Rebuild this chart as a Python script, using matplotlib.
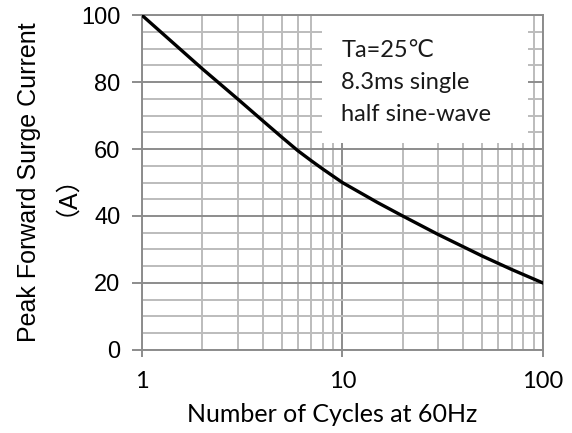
import matplotlib
matplotlib.use("Agg")
import matplotlib.pyplot as plt
from matplotlib.patches import Rectangle
from matplotlib.ticker import LogLocator, MultipleLocator, FixedLocator, NullFormatter
import numpy as np

# values
cycles = [1, 2, 3, 4, 5, 6, 7, 8, 10, 15, 20, 30, 50, 70, 100]
current = [100, 84, 75, 68.5, 63.5, 59.5, 56.5, 54, 50, 44, 40, 34.5, 28, 24, 20]

x_ticks = [1, 10, 100]
x_tick_labels = ["1", "10", "100"]
y_ticks = [0, 20, 40, 60, 80, 100]

note = "Ta=25\u2103\n8.3ms single\nhalf sine-wave"

grid_col = "#bcbcbc"
dark = "#8c8c8c"


def main():
    fig = plt.figure(figsize=(5.72, 4.33), dpi=100)
    ax = fig.add_axes([0.248, 0.192, 0.701, 0.773])

    ax.set_xscale("log")
    ax.set_xlim(1, 100)
    ax.set_ylim(0, 100)
    ax.set_axisbelow(True)

    ax.xaxis.set_major_locator(FixedLocator(x_ticks))
    ax.set_xticklabels(x_tick_labels, family=["Lato", "DejaVu Sans"], fontsize=17)
    ax.xaxis.set_minor_locator(LogLocator(base=10, subs=np.arange(2, 10)))
    ax.xaxis.set_minor_formatter(NullFormatter())
    ax.yaxis.set_major_locator(FixedLocator(y_ticks))
    ax.yaxis.set_minor_locator(MultipleLocator(5))
    for lab in ax.get_yticklabels():
        lab.set_family("Liberation Sans")
        lab.set_fontsize(17)

    ax.grid(which="minor", color=grid_col, linewidth=1.4)
    ax.grid(which="major", color=dark, linewidth=1.4)
    ax.tick_params(axis="x", which="major", length=5, width=1.4, color=dark, pad=10)
    ax.tick_params(axis="y", which="major", length=7.5, width=1.4, color=dark, pad=8)
    ax.tick_params(which="minor", length=0)
    for sp in ax.spines.values():
        sp.set_color(dark)
        sp.set_linewidth(1.4)

    box = Rectangle((0.449, 0.617), 0.515, 0.381, transform=ax.transAxes,
                    facecolor="white", edgecolor="none", zorder=1.5)
    ax.add_patch(box)

    ax.plot(cycles, current, color="black", linewidth=2.4, zorder=3)

    ax.text(0.497, 0.926, note, transform=ax.transAxes, ha="left", va="top",
            fontsize=17, linespacing=1.65, family=["Lato", "DejaVu Sans"],
            color="#1a1a1a", zorder=4)

    ax.set_xlabel("Number of Cycles at 60Hz", family=["Lato", "DejaVu Sans"],
                  fontsize=18)
    ax.xaxis.set_label_coords(0.475, -0.16)
    ax.set_ylabel("Peak Forward Surge Current\n\uff08A\uff09",
                  family=["Liberation Sans", "Noto Sans CJK SC"],
                  fontsize=18, linespacing=1.05)
    ax.yaxis.set_label_coords(-0.19, 0.5)

    fig.savefig("out.png", dpi=100)


if __name__ == "__main__":
    main()
